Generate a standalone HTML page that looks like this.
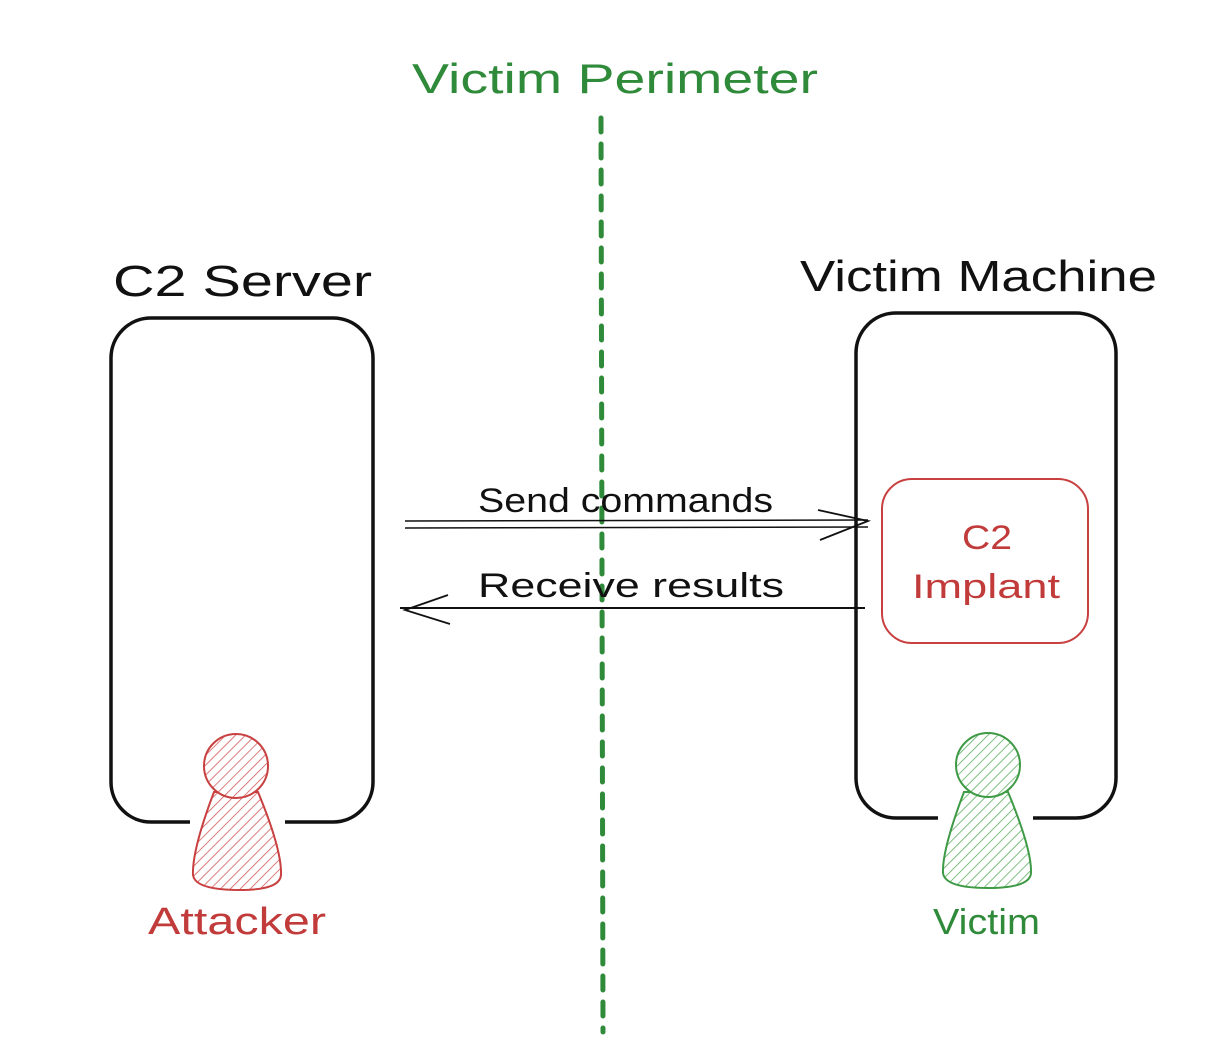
<!DOCTYPE html>
<html><head><style>html,body{margin:0;padding:0;background:#fff}svg{display:block}</style></head>
<body>
<svg width="1220" height="1062" viewBox="0 0 1220 1062" xmlns="http://www.w3.org/2000/svg" font-family="'Liberation Sans', 'DejaVu Sans', sans-serif">
<defs>
<pattern id="hr" width="7" height="7" patternUnits="userSpaceOnUse" patternTransform="rotate(45)"><line x1="0" y1="0" x2="0" y2="7" stroke="#d25b5b" stroke-width="1.6"/></pattern>
<pattern id="hg" width="7" height="7" patternUnits="userSpaceOnUse" patternTransform="rotate(45)"><line x1="0" y1="0" x2="0" y2="7" stroke="#5fae62" stroke-width="1.6"/></pattern>
</defs>
<text x="412" y="93" font-size="42" fill="#2f8a3a" textLength="406" lengthAdjust="spacingAndGlyphs">Victim Perimeter</text>
<line x1="601" y1="118" x2="603" y2="1032" stroke="#2f8a3a" stroke-width="5" stroke-dasharray="14 12" stroke-linecap="round"/>
<text x="113" y="296" font-size="44" fill="#111" textLength="259" lengthAdjust="spacingAndGlyphs">C2 Server</text>
<text x="800" y="291" font-size="44" fill="#111" textLength="357" lengthAdjust="spacingAndGlyphs">Victim Machine</text>
<rect x="111" y="318" width="262" height="504" rx="40" fill="none" stroke="#111" stroke-width="3.5"/>
<rect x="856" y="313" width="260" height="505" rx="40" fill="none" stroke="#111" stroke-width="3.5"/>
<rect x="882" y="479" width="206" height="164" rx="30" fill="none" stroke="#c94040" stroke-width="2"/>
<text x="962" y="549" font-size="34" fill="#c23b3b" textLength="50" lengthAdjust="spacingAndGlyphs">C2</text>
<text x="912" y="598" font-size="34" fill="#c23b3b" textLength="148" lengthAdjust="spacingAndGlyphs">Implant</text>
<text x="478" y="512" font-size="34" fill="#111" textLength="295" lengthAdjust="spacingAndGlyphs">Send commands</text>
<line x1="405" y1="521" x2="868" y2="520" stroke="#111" stroke-width="1.5"/>
<line x1="405" y1="528" x2="868" y2="527" stroke="#111" stroke-width="1.5"/>
<path d="M818 510 L868 521 L820 540" fill="none" stroke="#111" stroke-width="1.8"/>
<text x="478" y="597" font-size="34" fill="#111" textLength="306" lengthAdjust="spacingAndGlyphs">Receive results</text>
<line x1="400" y1="608" x2="865" y2="608" stroke="#111" stroke-width="2"/>
<path d="M448 595 L405 610 L450 624" fill="none" stroke="#111" stroke-width="1.8"/>
<g>
<rect x="190" y="816" width="95" height="10" fill="#fff"/>
<path d="M214 792 L258 792 Q282 850 281 875 Q280 890 240 890 Q195 890 193 875 Q192 850 214 792 Z" fill="url(#hr)" stroke="#c94040" stroke-width="2"/>
<circle cx="236" cy="766" r="32" fill="#fff"/>
<circle cx="236" cy="766" r="32" fill="url(#hr)" stroke="#c94040" stroke-width="2"/>
<text x="148" y="934" font-size="38" fill="#c23b3b" textLength="178" lengthAdjust="spacingAndGlyphs">Attacker</text>
</g>
<g>
<rect x="938" y="812" width="95" height="10" fill="#fff"/>
<path d="M964 792 L1008 792 Q1032 850 1031 873 Q1030 888 988 888 Q945 888 943 873 Q942 850 964 792 Z" fill="url(#hg)" stroke="#3f9a46" stroke-width="2"/>
<circle cx="988" cy="765" r="32" fill="#fff"/>
<circle cx="988" cy="765" r="32" fill="url(#hg)" stroke="#3f9a46" stroke-width="2"/>
<text x="933" y="934" font-size="36" fill="#2f8a3a" textLength="107" lengthAdjust="spacingAndGlyphs">Victim</text>
</g>
</svg>
</body></html>
